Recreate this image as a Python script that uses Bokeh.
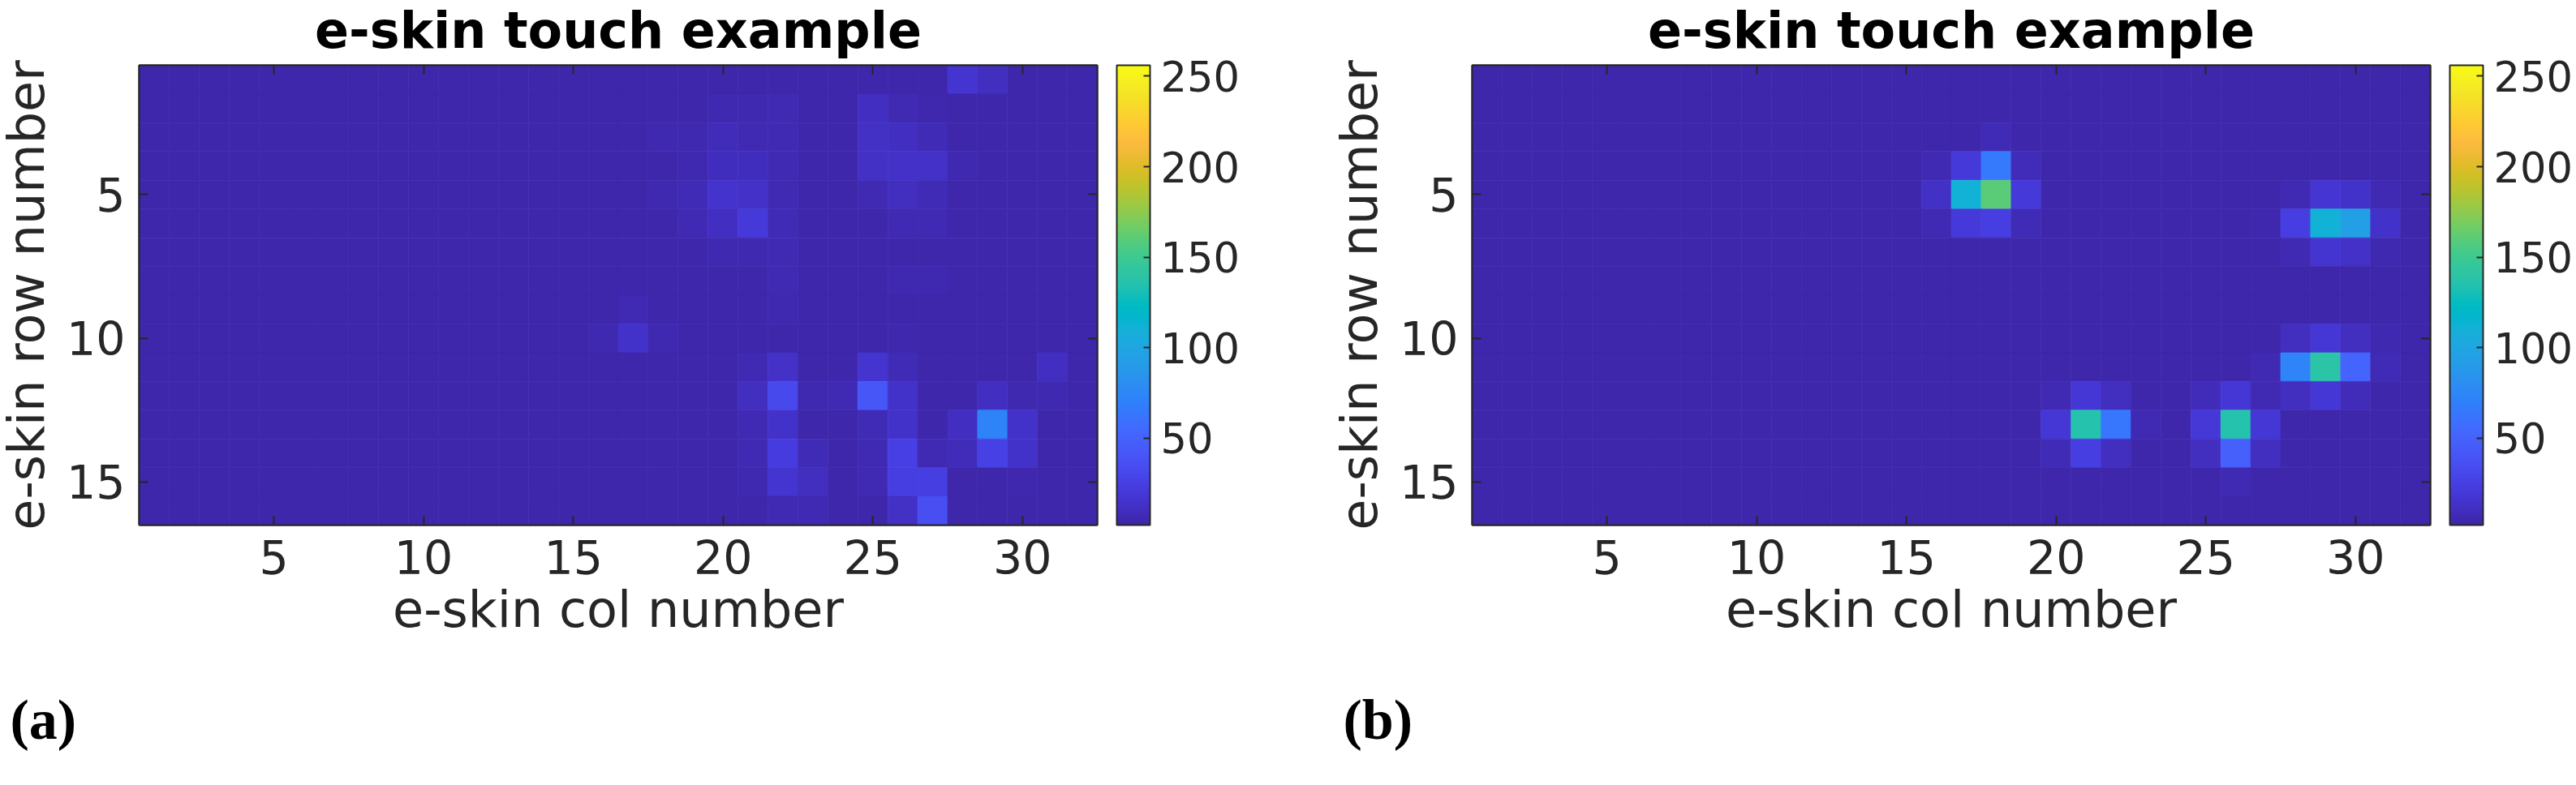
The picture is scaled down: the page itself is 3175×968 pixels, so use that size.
import numpy as np
from bokeh.plotting import figure
from bokeh.models import (ColumnDataSource, LinearColorMapper, ColorBar, FixedTicker,
                          Range1d, LinearAxis, Title)
from bokeh.layouts import row
from bokeh.embed import file_html
from bokeh.resources import INLINE

# ---------------- data ----------------
title_text = "e-skin touch example"
x_label = "e-skin col number"
y_label = "e-skin row number"
panel_tags = ["(a)", "(b)"]
x_ticks = [5, 10, 15, 20, 25, 30]
y_ticks = [5, 10, 15]
cbar_ticks = [50, 100, 150, 200, 250]
clim_low, clim_high = 2, 256

# e-skin readings, 16 rows x 32 columns (row 1 at top)
touch_a = [
    [3,3,3,3,3,3,3,3,3,3, 3,3,3,3,3,3,3,3,3,3, 3,3,3,3,3,3,3,16,10,3, 3,3],
    [3,3,3,3,3,3,3,3,3,3, 3,3,3,3,3,3,3,3,3,5, 5,6,3,3,11,6,4,3,3,3, 3,3],
    [3,3,3,3,3,3,3,3,3,3, 3,3,3,3,3,3,3,5,5,8, 6,6,3,3,12,11,7,3,3,3, 3,3],
    [3,3,3,3,3,3,3,3,3,3, 3,3,3,3,3,3,3,3,5,9, 9,6,3,3,12,13,13,5,3,3, 3,3],
    [3,3,3,3,3,3,3,3,3,3, 3,3,3,3,3,3,3,5,7,15, 13,6,3,3,6,10,7,3,3,3, 3,3],
    [3,3,3,3,3,3,3,3,3,3, 3,3,3,3,3,3,3,3,6,11, 20,7,3,3,3,6,6,3,3,3, 3,3],
    [3,3,3,3,3,3,3,3,3,3, 3,3,3,3,3,3,3,3,3,5, 5,6,3,3,3,3,3,3,3,3, 3,3],
    [3,3,3,3,3,3,3,3,3,3, 3,3,3,3,3,3,3,3,3,3, 3,6,3,3,3,5,5,3,3,3, 3,3],
    [3,3,3,3,3,3,3,3,3,3, 3,3,3,3,3,3,6,3,3,3, 3,5,3,3,3,3,3,3,3,3, 3,3],
    [3,3,3,3,3,3,3,3,3,3, 3,3,3,3,3,5,14,5,3,3, 3,3,3,3,3,4,3,3,3,3, 3,3],
    [3,3,3,3,3,3,3,3,3,3, 3,3,3,3,3,3,3,3,3,3, 6,13,3,3,16,7,3,3,3,3, 11,3],
    [3,3,3,3,3,3,3,3,3,3, 3,3,3,3,3,3,3,3,3,3, 10,32,5,6,42,14,3,3,11,5, 5,3],
    [3,3,3,3,3,3,3,3,3,3, 3,3,3,3,3,3,3,3,3,3, 6,14,3,3,7,14,3,11,72,14, 3,3],
    [3,3,3,3,3,3,3,3,3,3, 3,3,3,3,3,3,3,3,3,3, 6,22,7,3,6,25,6,8,26,14, 3,3],
    [3,3,3,3,3,3,3,3,3,3, 3,3,3,3,3,3,3,3,3,3, 5,16,10,3,6,24,24,3,3,4, 3,3],
    [3,3,3,3,3,3,3,3,3,3, 3,3,3,3,3,3,3,3,3,3, 3,6,6,3,3,12,35,3,3,3, 3,3],
]

touch_b = [
    [3,3,3,3,3,3,3,3,3,3, 3,3,3,3,3,3,3,3,3,3, 3,3,3,3,3,3,3,3,3,3, 3,3],
    [3,3,3,3,3,3,3,3,3,3, 3,3,3,3,3,3,3,3,3,3, 3,3,3,3,3,3,3,3,3,3, 3,3],
    [3,3,3,3,3,3,3,3,3,3, 3,3,3,3,3,3,3,7,3,3, 3,3,3,3,3,3,3,3,3,3, 3,3],
    [3,3,3,3,3,3,3,3,3,3, 3,3,3,3,3,6,20,65,8,3, 3,3,3,3,3,3,3,3,3,3, 3,3],
    [3,3,3,3,3,3,3,3,3,3, 3,3,3,3,3,12,111,160,20,3, 3,3,3,3,3,3,3,6,17,14, 6,3],
    [3,3,3,3,3,3,3,3,3,3, 3,3,3,3,3,6,20,24,7,3, 3,3,3,3,3,3,4,24,111,95, 14,3],
    [3,3,3,3,3,3,3,3,3,3, 3,3,3,3,3,3,3,3,3,3, 3,3,3,3,3,3,3,6,16,13, 5,3],
    [3,3,3,3,3,3,3,3,3,3, 3,3,3,3,3,3,3,3,3,3, 3,3,3,3,3,3,3,3,3,3, 3,3],
    [3,3,3,3,3,3,3,3,3,3, 3,3,3,3,3,3,3,3,3,3, 3,3,3,3,3,3,3,3,3,3, 3,3],
    [3,3,3,3,3,3,3,3,3,3, 3,3,3,3,3,3,3,3,3,3, 3,3,3,3,3,3,3,10,18,10, 5,3],
    [3,3,3,3,3,3,3,3,3,3, 3,3,3,3,3,3,3,3,3,3, 3,3,3,3,3,3,6,73,139,52, 7,3],
    [3,3,3,3,3,3,3,3,3,3, 3,3,3,3,3,3,3,3,3,6, 18,10,3,3,8,18,6,10,18,8, 3,3],
    [3,3,3,3,3,3,3,3,3,3, 3,3,3,3,3,3,3,3,3,18, 135,64,6,3,19,135,18,3,3,3, 3,3],
    [3,3,3,3,3,3,3,3,3,3, 3,3,3,3,3,3,3,3,3,7, 24,10,3,3,10,48,10,3,3,3, 3,3],
    [3,3,3,3,3,3,3,3,3,3, 3,3,3,3,3,3,3,3,3,3, 3,3,3,3,3,6,3,3,3,3, 3,3],
    [3,3,3,3,3,3,3,3,3,3, 3,3,3,3,3,3,3,3,3,3, 3,3,3,3,3,3,3,3,3,3, 3,3],
]

# ---------------- style ----------------
PARULA_64 = [
    (0.2422,0.1504,0.6603),(0.2504,0.1650,0.7076),(0.2578,0.1818,0.7511),(0.2647,0.1978,0.7952),
    (0.2706,0.2147,0.8364),(0.2751,0.2342,0.8710),(0.2783,0.2559,0.8991),(0.2803,0.2782,0.9221),
    (0.2813,0.3006,0.9414),(0.2810,0.3228,0.9579),(0.2795,0.3447,0.9717),(0.2760,0.3667,0.9829),
    (0.2699,0.3892,0.9906),(0.2602,0.4123,0.9952),(0.2440,0.4358,0.9988),(0.2206,0.4603,0.9973),
    (0.1963,0.4847,0.9892),(0.1834,0.5074,0.9798),(0.1786,0.5289,0.9682),(0.1764,0.5499,0.9520),
    (0.1687,0.5703,0.9359),(0.1540,0.5902,0.9218),(0.1460,0.6091,0.9079),(0.1380,0.6276,0.8973),
    (0.1248,0.6459,0.8883),(0.1113,0.6635,0.8763),(0.0952,0.6798,0.8598),(0.0689,0.6948,0.8394),
    (0.0297,0.7082,0.8163),(0.0036,0.7203,0.7917),(0.0067,0.7312,0.7660),(0.0433,0.7411,0.7394),
    (0.0964,0.7500,0.7120),(0.1408,0.7584,0.6842),(0.1717,0.7670,0.6554),(0.1938,0.7758,0.6251),
    (0.2161,0.7843,0.5923),(0.2470,0.7918,0.5567),(0.2906,0.7973,0.5188),(0.3406,0.8008,0.4789),
    (0.3909,0.8029,0.4354),(0.4456,0.8024,0.3909),(0.5044,0.7993,0.3480),(0.5616,0.7942,0.3045),
    (0.6174,0.7876,0.2612),(0.6720,0.7793,0.2227),(0.7242,0.7698,0.1910),(0.7738,0.7598,0.1646),
    (0.8203,0.7498,0.1535),(0.8634,0.7406,0.1596),(0.9035,0.7330,0.1774),(0.9393,0.7288,0.2100),
    (0.9728,0.7298,0.2394),(0.9956,0.7434,0.2371),(0.9970,0.7659,0.2199),(0.9952,0.7893,0.2028),
    (0.9892,0.8136,0.1885),(0.9786,0.8386,0.1766),(0.9676,0.8639,0.1643),(0.9610,0.8890,0.1537),
    (0.9597,0.9135,0.1423),(0.9628,0.9373,0.1265),(0.9691,0.9606,0.1064),(0.9769,0.9839,0.0805),
]


def make_palette(n=256):
    a = np.array(PARULA_64)
    t = np.linspace(0, 1, len(a))
    ts = np.linspace(0, 1, n)
    cols = np.stack([np.interp(ts, t, a[:, k]) for k in range(3)], axis=1)
    return ["#%02x%02x%02x" % tuple(int(round(c * 255)) for c in rgb) for rgb in cols]


PALETTE = make_palette()
AX_COLOR = "#262626"
FONT = "DejaVu Sans"
TICK_FS = "57px"
LABEL_FS = "62px"
CBAR_FS = "51px"

FRAME_W, FRAME_H = 1181, 567
BORDER_L, BORDER_T = 173, 88
FIG_H = 960


def style_axis(ax):
    ax.major_tick_in = 11
    ax.major_tick_out = 0
    ax.minor_tick_line_color = None
    ax.major_tick_line_color = AX_COLOR
    ax.major_tick_line_width = 2
    ax.axis_line_color = AX_COLOR
    ax.axis_line_width = 2
    ax.major_label_text_color = AX_COLOR
    ax.major_label_text_font = FONT
    ax.major_label_text_font_size = TICK_FS
    ax.axis_label_text_color = AX_COLOR
    ax.axis_label_text_font = FONT
    ax.axis_label_text_font_size = LABEL_FS
    ax.axis_label_text_font_style = "normal"


def make_panel(matrix, tag, fig_w):
    n_rows = len(matrix)
    n_cols = len(matrix[0])
    rr, cc, vv = [], [], []
    for r, row_vals in enumerate(matrix, start=1):
        for c, v in enumerate(row_vals, start=1):
            rr.append(r)
            cc.append(c)
            vv.append(v)
    src = ColumnDataSource(dict(row=rr, col=cc, v=vv))
    mapper = LinearColorMapper(palette=PALETTE, low=clim_low, high=clim_high)

    p = figure(frame_width=FRAME_W, frame_height=FRAME_H,
               x_range=Range1d(0.5, n_cols + 0.5), y_range=Range1d(n_rows + 0.5, 0.5),
               output_backend="svg", toolbar_location=None, tools="",
               min_border_left=BORDER_L, min_border_top=BORDER_T,
               min_border_right=fig_w - BORDER_L - FRAME_W,
               min_border_bottom=FIG_H - BORDER_T - FRAME_H,
               background_fill_color="white", border_fill_color="white",
               outline_line_color=AX_COLOR, outline_line_width=2)
    p.rect(x="col", y="row", width=1, height=1, source=src,
           fill_color={"field": "v", "transform": mapper},
           line_color={"field": "v", "transform": mapper}, line_width=0.6)

    p.grid.visible = False
    p.xaxis.ticker = FixedTicker(ticks=x_ticks)
    p.yaxis.ticker = FixedTicker(ticks=y_ticks)
    for ax in (p.xaxis[0], p.yaxis[0]):
        style_axis(ax)
    p.xaxis.axis_label = x_label
    p.yaxis.axis_label = y_label
    p.xaxis.major_label_standoff = 18
    p.xaxis.axis_label_standoff = 4
    p.yaxis.major_label_standoff = 17
    p.yaxis.axis_label_standoff = 10

    # box ticks on top and right
    top_ax = LinearAxis(ticker=FixedTicker(ticks=x_ticks),
                        major_label_overrides={t: "" for t in x_ticks},
                        major_label_standoff=0)
    style_axis(top_ax)
    p.add_layout(top_ax, "above")
    right_ax = LinearAxis(ticker=FixedTicker(ticks=y_ticks),
                          major_label_overrides={t: " " for t in y_ticks},
                          major_label_standoff=18)
    style_axis(right_ax)
    right_ax.major_label_text_font_size = "10px"
    p.add_layout(right_ax, "right")

    cbar = ColorBar(color_mapper=mapper, ticker=FixedTicker(ticks=cbar_ticks),
                    width=41, height=FRAME_H, padding=0, margin=0, location="top_left",
                    major_label_text_font=FONT, major_label_text_font_size=CBAR_FS,
                    major_label_text_color=AX_COLOR, label_standoff=13,
                    major_tick_in=8, major_tick_out=0, major_tick_line_color=AX_COLOR,
                    major_tick_line_width=2, bar_line_color=AX_COLOR, bar_line_width=2,
                    background_fill_color=None, border_line_color=None)
    p.add_layout(cbar, "right")

    p.title.text = title_text
    p.title.align = "center"
    p.title.text_font = FONT
    p.title.text_font_size = LABEL_FS
    p.title.text_font_style = "bold"
    p.title.text_color = "black"
    p.title.standoff = 13

    # spacer below the x-axis label, then the panel tag
    spacer = LinearAxis(ticker=FixedTicker(ticks=[]), axis_line_color=None,
                        major_tick_line_color=None, minor_tick_line_color=None,
                        axis_label=" ", axis_label_text_font_size="40px",
                        axis_label_standoff=11)
    p.add_layout(spacer, "below")
    tag_title = Title(text=tag, align="left", offset=-159, standoff=0, vertical_align="top",
                      text_font="Liberation Serif", text_font_style="bold",
                      text_font_size="70px", text_color="black")
    p.add_layout(tag_title, "below")
    return p


p1 = make_panel(touch_a, panel_tags[0], 1637)
p2 = make_panel(touch_b, panel_tags[1], 1538)
layout = row(p1, p2, margin=(-8, 0, 0, -8))

open("out.html", "w").write(file_html(layout, INLINE))
